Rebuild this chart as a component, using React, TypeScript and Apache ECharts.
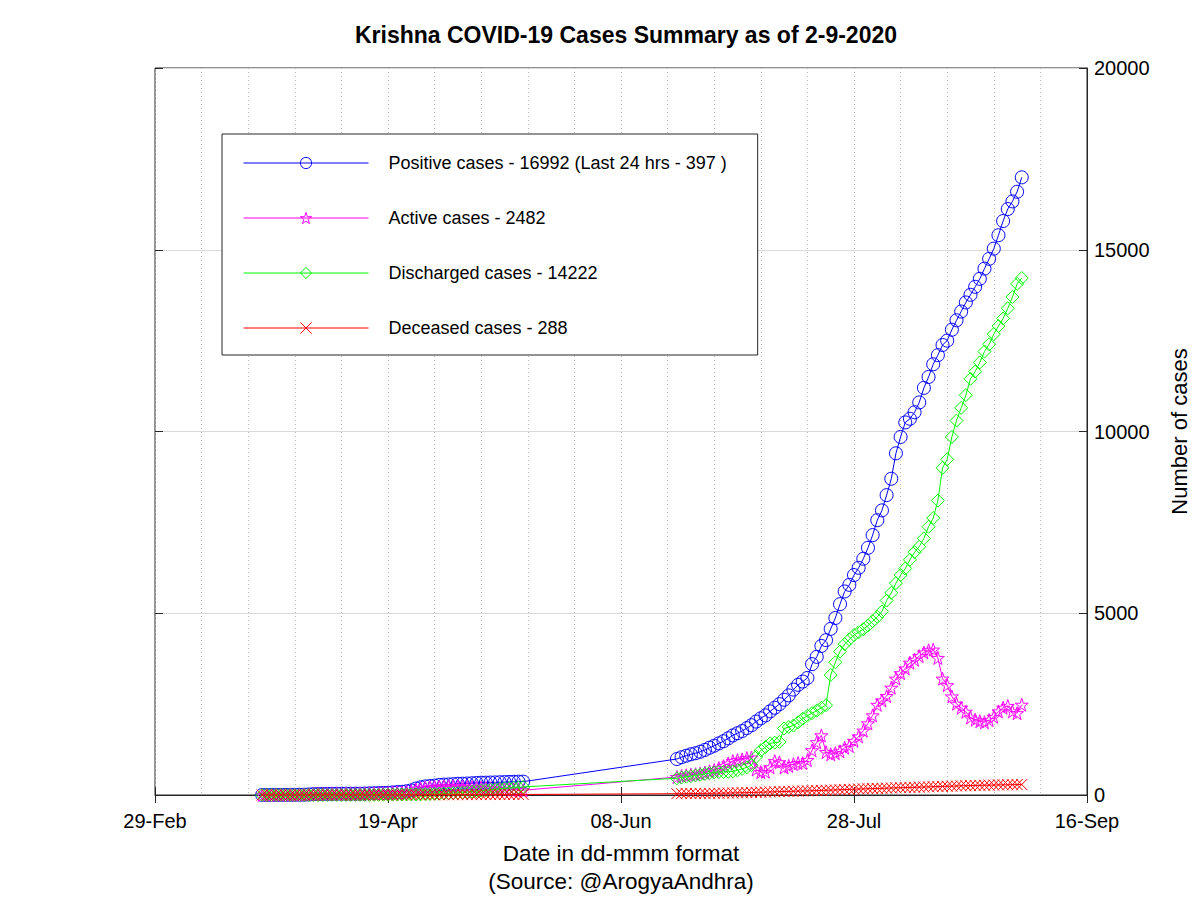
import React, { useEffect, useRef } from "react";
import * as echarts from "echarts";

const FONT = "Liberation Sans, Arial, Helvetica, sans-serif";

const chartTitle = "Krishna COVID-19 Cases Summary as of 2-9-2020";
const axisOrigin = "2020-02-29";
const segmentStarts = ["2020-03-23", "2020-06-20"];
const xTickLabels = ["29-Feb", "19-Apr", "08-Jun", "28-Jul", "16-Sep"];
const seriesNames = [
  "Positive cases - 16992 (Last 24 hrs - 397 )",
  "Active cases - 2482",
  "Discharged cases - 14222",
  "Deceased cases - 288",
];
const seriesColors = ["#0000ff", "#ff00ff", "#00ff00", "#ff0000"];

// Segment 1: 23-Mar .. 18-May ; Segment 2: 20-Jun .. 02-Sep
const positive1 = [
  1, 1, 1, 1, 2, 3, 4, 5, 6,
  8, 15, 23, 27, 28, 29, 32, 34, 35, 35,
  35, 36, 36, 39, 45, 48, 52, 56, 61, 71,
  80, 88, 102, 127, 177, 210, 236, 246, 258, 278,
  285, 290, 297, 309, 311, 316, 322, 330, 338, 339,
  343, 346, 351, 355, 360, 363, 367, 367,
];
const positive2 = [
  990, 1040, 1080, 1120, 1150, 1190, 1240, 1300, 1355, 1420,
  1480, 1560, 1640, 1700, 1760, 1840, 1920, 2020, 2110, 2190,
  2300, 2400, 2500, 2620, 2740, 2900, 3030, 3120, 3220, 3600,
  3800, 4100, 4260, 4570, 4870, 5250, 5600, 5780, 6050, 6250,
  6500, 6800, 7150, 7560, 7830, 8250, 8700, 9400, 9850, 10250,
  10350, 10530, 10800, 11200, 11500, 11850, 12100, 12380, 12500, 12800,
  13060, 13300, 13550, 13760, 13980, 14200, 14480, 14750, 15030, 15400,
  15790, 16120, 16330, 16595, 16992,
];
const active1 = [
  1, 1, 1, 1, 2, 3, 4, 5, 6,
  8, 15, 23, 27, 27, 28, 30, 32, 33, 33,
  33, 33, 33, 36, 41, 43, 46, 49, 51, 59,
  65, 71, 83, 106, 153, 183, 204, 210, 218, 234,
  237, 237, 237, 240, 231, 224, 216, 211, 207, 196,
  186, 176, 168, 160, 156, 149, 142, 130,
];
const active2 = [
  494, 523, 542, 560, 569, 587, 616, 654, 687, 740, 793, 865, 933, 960, 978, 1015, 1031,
  700, 630, 640, 760, 930, 900, 760, 800, 850, 880, 880, 960, 1230, 1450, 1640, 1180, 1120, 1150,
  1200, 1300, 1350, 1490, 1610, 1770, 1970, 2190, 2480, 2600, 2720, 2950,
  3200, 3350, 3480, 3640, 3720, 3820, 3920, 3980, 4000, 3770, 3200, 3020, 2710,
  2510, 2400, 2290, 2130, 2070, 2030, 2000, 2060, 2150, 2300, 2400, 2450, 2300, 2250, 2482,
];
const discharged1 = [
  0, 0, 0, 0, 0, 0, 0, 0, 0,
  0, 0, 0, 0, 0, 0, 1, 1, 1, 1,
  1, 2, 2, 2, 3, 3, 4, 5, 8, 10,
  12, 14, 15, 16, 18, 20, 24, 28, 32, 36,
  40, 45, 52, 60, 70, 82, 95, 108, 120, 132,
  145, 158, 170, 182, 190, 200, 210, 222,
];
const discharged2 = [
  460, 480, 500, 520, 540, 560, 580, 600, 620, 630, 635, 640, 650, 680, 720, 760,
  820, 1050, 1230, 1320, 1420, 1440, 1460,
  1830, 1870, 1910, 2000, 2100, 2180, 2250, 2320, 2400, 2470,
  3300, 3650, 3950, 4150, 4280, 4400, 4480, 4560, 4660, 4780,
  4900, 5050, 5350, 5560, 5830, 6050, 6230, 6470, 6680, 6830, 7060, 7380, 7620,
  8100, 9000, 9235, 9850, 10300, 10650, 11000, 11450, 11650, 11900, 12200, 12400, 12680,
  12900, 13110, 13390, 13700, 14060, 14222,
];
const deceased1 = [
  0, 0, 0, 0, 0, 0, 0, 0, 0,
  0, 0, 0, 0, 1, 1, 1, 1, 1, 1,
  1, 1, 1, 1, 1, 2, 2, 2, 2, 2,
  3, 3, 4, 5, 6, 7, 8, 8, 8, 8,
  8, 8, 8, 9, 10, 10, 11, 11, 11, 11,
  12, 12, 13, 13, 14, 14, 15, 15,
];
const deceased2 = [
  36, 37, 38, 40, 41, 43, 44, 46, 48, 50,
  52, 55, 57, 60, 62, 65, 69, 72, 76, 80,
  84, 88, 92, 96, 100, 104, 107, 110, 114, 118,
  122, 126, 130, 135, 139, 144, 149, 154, 159, 164,
  168, 172, 176, 180, 184, 188, 193, 197, 201, 204,
  208, 212, 216, 220, 224, 228, 232, 236, 240, 244,
  248, 252, 256, 259, 263, 266, 269, 272, 275, 278,
  280, 282, 284, 286, 288,
];

const yTicks = { min: 0, max: 20000, interval: 5000 };
const xTicks = { min: 0, max: 200, interval: 50 };

const STAR =
  "path://M50,0L61.8,35.1L98.8,35.1L68.9,56.8L80.3,91.9L50,70.2L19.7,91.9L31.1,56.8L1.2,35.1L38.2,35.1Z";
const CROSS = "path://M0,0L10,10M10,0L0,10";
const symbols = ["circle", STAR, "diamond", CROSS];
const symbolSizes = [13, 13, 13, 11];

function toPoints(seg1: number[], seg2: number[]) {
  const origin = Date.parse(axisOrigin + "T00:00:00Z");
  const pts: number[][] = [];
  [seg1, seg2].forEach((seg, s) => {
    const start = Math.round((Date.parse(segmentStarts[s] + "T00:00:00Z") - origin) / 86400000);
    seg.forEach((v, i) => pts.push([start + i, v]));
  });
  return pts;
}

export default function App() {
  const ref = useRef<HTMLDivElement>(null);
  useEffect(() => {
    if (!ref.current) return;
    const chart = echarts.init(ref.current, null, { renderer: "svg" });
    const datasets = [
      toPoints(positive1, positive2),
      toPoints(active1, active2),
      toPoints(discharged1, discharged2),
      toPoints(deceased1, deceased2),
    ];
    const dotted = { color: "#b8b8b8", width: 1, type: [1, 3] as any };
    chart.setOption({
      animation: false,
      backgroundColor: "#ffffff",
      textStyle: { fontFamily: FONT },
      title: {
        text: chartTitle,
        left: 621,
        top: 18,
        textAlign: "center",
        textStyle: { fontFamily: FONT, fontSize: 23, fontWeight: "bold", color: "#000" },
      },
      grid: {
        left: 155,
        width: 932,
        top: 68,
        height: 732,
        show: true,
        borderColor: "#262626",
        borderWidth: 1,
        backgroundColor: "transparent",
      },
      legend: {
        orient: "vertical",
        left: 222,
        top: 134,
        padding: [20, 31, 18, 21],
        itemWidth: 125,
        itemHeight: 14,
        itemGap: 37,
        backgroundColor: "#ffffff",
        borderColor: "#262626",
        borderWidth: 1,
        borderRadius: 0,
        selectedMode: false,
        itemStyle: { color: "rgba(0,0,0,0)", borderWidth: 1 },
        lineStyle: { width: 1 },
        textStyle: { fontFamily: FONT, fontSize: 18, color: "#000", padding: [0, 0, 0, 15] },
        data: seriesNames,
      },
      xAxis: [
        {
          type: "value",
          position: "bottom",
          min: xTicks.min,
          max: xTicks.max,
          interval: xTicks.interval,
          axisLine: { show: true, onZero: false, lineStyle: { color: "#262626" } },
          axisTick: { show: true, inside: true, length: 8, lineStyle: { color: "#262626" } },
          axisLabel: {
            formatter: (v: number) => xTickLabels[Math.round(v / xTicks.interval)] ?? "",
            fontFamily: FONT,
            fontSize: 20,
            color: "#000",
            margin: 16,
          },
          splitLine: { show: true, lineStyle: dotted },
          minorTick: { show: false, splitNumber: 5 },
          minorSplitLine: { show: true, lineStyle: dotted },
          name: "Date in dd-mmm format\n(Source: @ArogyaAndhra)",
          nameLocation: "middle",
          nameGap: 44,
          nameTextStyle: { fontFamily: FONT, fontSize: 22.5, lineHeight: 28, color: "#000" },
        },
        {
          type: "value",
          position: "top",
          min: xTicks.min,
          max: xTicks.max,
          interval: xTicks.interval,
          axisLine: { show: false },
          axisTick: { show: true, inside: true, length: 8, lineStyle: { color: "#262626" } },
          axisLabel: { show: false },
          splitLine: { show: false },
        },
      ],
      yAxis: [
        {
          type: "value",
          position: "right",
          min: yTicks.min,
          max: yTicks.max,
          interval: yTicks.interval,
          axisLine: { show: true, onZero: false, lineStyle: { color: "#262626" } },
          axisTick: { show: true, inside: true, length: 8, lineStyle: { color: "#262626" } },
          axisLabel: {
            fontFamily: FONT,
            fontSize: 20,
            color: "#000",
            margin: 7,
            formatter: (v: number) => String(v),
          },
          splitLine: { show: true, lineStyle: { color: "#dadada", width: 1 } },
          name: "Number of cases",
          nameLocation: "middle",
          nameRotate: 90,
          nameGap: 81,
          nameTextStyle: { fontFamily: FONT, fontSize: 22, color: "#000" },
        },
        {
          type: "value",
          position: "left",
          min: yTicks.min,
          max: yTicks.max,
          interval: yTicks.interval,
          axisLine: { show: false },
          axisTick: { show: true, inside: true, length: 8, lineStyle: { color: "#262626" } },
          axisLabel: { show: false },
          splitLine: { show: false },
        },
      ],
      series: seriesNames.map((name, i) => ({
        name,
        type: "line",
        xAxisIndex: 0,
        yAxisIndex: 0,
        data: datasets[i],
        symbol: symbols[i],
        symbolSize: symbolSizes[i],
        showSymbol: true,
        lineStyle: { color: seriesColors[i], width: 1 },
        itemStyle: { color: "rgba(0,0,0,0)", borderColor: seriesColors[i], borderWidth: 1 },
        emphasis: { disabled: true },
        z: 2 + i,
      })),
    });
    return () => chart.dispose();
  }, []);
  return (
    <div
      ref={ref}
      style={{ position: "absolute", left: 0, top: 0, width: 1200, height: 900, background: "#fff" }}
    />
  );
}
